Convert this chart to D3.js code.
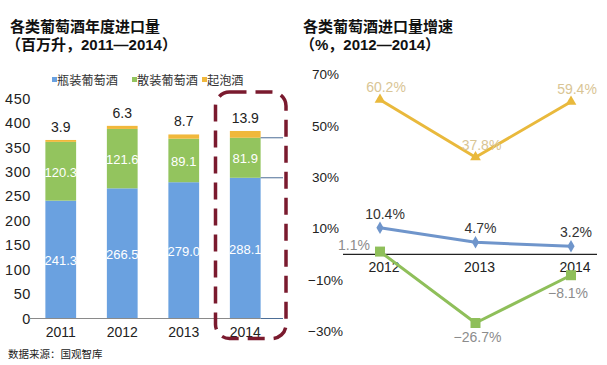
<!DOCTYPE html>
<html><head><meta charset="utf-8">
<script src="https://cdn.jsdelivr.net/npm/d3@7"></script>
<style>
html,body{margin:0;padding:0;background:#fff;}
svg{display:block;font-family:"Liberation Sans","Noto Sans CJK SC",Arial,sans-serif;}
.cjk{font-family:"Noto Sans CJK SC","Liberation Sans",sans-serif;}
.ttl{font-family:"Liberation Sans","Noto Sans CJK SC",sans-serif;}
</style></head>
<body>
<script>
// ---- data ----
const years = ["2011","2012","2013","2014"];
const bottled = [241.3, 266.5, 279.0, 288.1];
const bulk = [120.3, 121.6, 89.1, 81.9];
const sparkling = [3.9, 6.3, 8.7, 13.9];
const seriesNames = ["瓶装葡萄酒","散装葡萄酒","起泡酒"];
const leftTicks = [0,50,100,150,200,250,300,350,400,450];

const growthYears = ["2012","2013","2014"];
const growthBottled = [10.4, 4.7, 3.2];
const growthBulk = [1.1, -26.7, -8.1];
const growthSparkling = [60.2, 37.8, 59.4];
const rightTicks = [70,50,30,10,-10,-30];
const rightTickLabels = ["70%","50%","30%","10%","−10%","−30%"];

const colors = {blue:"#6aa1e0", green:"#93c45e", yellow:"#f1b83b"};
const lineColors = {blue:"#6f95cb", green:"#8fbf5a", yellow:"#e9b93c"};

const W=607,H=365;
const svg=d3.select("body").append("svg").attr("width",W).attr("height",H);

// ---- titles ----
function title(x,yb,t){
  svg.append("text").attr("class","ttl").attr("font-size",15).attr("font-weight","bold").attr("fill","#111")
    .attr("x",x).attr("y",yb).text(t);
}
title(10,31.5,"各类葡萄酒年度进口量");
title(6,49.5,"（百万升，2011—2014）");
title(303,31.5,"各类葡萄酒进口量增速");
title(300,49.5,"（%，2012—2014）");

// ---- left chart ----
const x=d3.scaleBand().domain(years).range([30,276]).paddingInner(0.5).paddingOuter(0.25);
const y=d3.scaleLinear().domain([0,450]).range([318.5,98.7]);

const rows=years.map((yr,i)=>({year:yr,bottled:bottled[i],bulk:bulk[i],sparkling:sparkling[i]}));
const keys=["bottled","bulk","sparkling"];
const keyColors=[colors.blue,colors.green,colors.yellow];
const stack=d3.stack().keys(keys)(rows);

const left=svg.append("g");
// y tick labels
left.append("g").selectAll("text").data(leftTicks).join("text")
  .attr("x",31).attr("y",d=>y(d)).attr("dy","0.35em").attr("text-anchor","end")
  .attr("font-size",14.5).attr("fill","#222").attr("letter-spacing",0.6).text(d=>d);

stack.forEach((s,k)=>{
  left.append("g").selectAll("rect").data(s).join("rect")
    .attr("x",d=>x(d.data.year)).attr("width",x.bandwidth())
    .attr("y",d=>y(d[1])).attr("height",d=>y(d[0])-y(d[1]))
    .attr("fill",keyColors[k]);
});
// inside labels
[0,1].forEach(k=>{
  left.append("g").selectAll("text").data(stack[k]).join("text")
    .attr("x",d=>x(d.data.year)+x.bandwidth()/2).attr("y",d=>y((d[0]+d[1])/2)+1).attr("dy","0.35em")
    .attr("text-anchor","middle").attr("font-size",13).attr("fill","#fff")
    .text((d,i)=>(k===0?bottled[i]:bulk[i]).toFixed(1));
});
// sparkling labels above
left.append("g").selectAll("text").data(stack[2]).join("text")
  .attr("x",d=>x(d.data.year)+x.bandwidth()/2).attr("y",d=>y(d[1])-8)
  .attr("text-anchor","middle").attr("font-size",14).attr("fill","#222")
  .text((d,i)=>sparkling[i].toFixed(1));

// connector lines for 2014
const last=years.length-1;
const xr=x(years[last])+x.bandwidth();
[0,bottled[last],bottled[last]+bulk[last]].forEach(v=>{
  left.append("line").attr("x1",xr).attr("x2",283).attr("y1",y(v)).attr("y2",y(v))
    .attr("stroke","#4d6e96").attr("stroke-width",1);
});
// x axis line
left.append("line").attr("x1",29).attr("x2",xr).attr("y1",y(0)).attr("y2",y(0))
  .attr("stroke","#8a8a8a").attr("stroke-width",1);
// x labels
left.append("g").selectAll("text").data(years).join("text")
  .attr("x",d=>x(d)+x.bandwidth()/2).attr("y",337).attr("text-anchor","middle")
  .attr("font-size",14).attr("fill","#222").text(d=>d);

// legend
const legX=[52,132,202];
seriesNames.forEach((n,i)=>{
  svg.append("rect").attr("x",legX[i]).attr("y",77).attr("width",5).attr("height",5).attr("fill",keyColors[i]);
  svg.append("text").attr("class","cjk").attr("x",legX[i]+5).attr("y",84.5).attr("font-size",12.2)
    .attr("fill","#333").text(n);
});

// highlight dashed rounded rect
svg.append("rect").attr("x",215.5).attr("y",92).attr("width",70.5).attr("height",246.5)
  .attr("rx",14).attr("ry",14).attr("fill","none").attr("stroke","#7a1a2e")
  .attr("stroke-width",3.5).attr("stroke-dasharray","17 9");

// source
svg.append("text").attr("class","cjk").attr("x",8).attr("y",358).attr("font-size",10.5)
  .attr("fill","#222").text("数据来源：国观智库");

// ---- right chart ----
const xp=d3.scalePoint().domain(growthYears).range([380,571]);
const yp=d3.scaleLinear().domain([-30,70]).range([331.5,74.5]);
const right=svg.append("g");
right.append("g").selectAll("text").data(rightTicks).join("text")
  .attr("x",(d)=>d<0?308:312).attr("y",d=>yp(d)).attr("dy","0.35em")
  .attr("font-size",13.5).attr("fill","#222").text((d,i)=>rightTickLabels[i]);
right.append("line").attr("x1",343).attr("x2",597).attr("y1",yp(0)).attr("y2",yp(0))
  .attr("stroke","#222").attr("stroke-width",1.2);
right.append("g").selectAll("text").data(growthYears).join("text")
  .attr("x",d=>xp(d)+4).attr("y",yp(0)+17.5).attr("text-anchor","middle")
  .attr("font-size",14).attr("fill","#222").text(d=>d);

const line=d3.line().x((d,i)=>xp(growthYears[i])).y(d=>yp(d));
function series(vals,col,shape,size){
  right.append("path").datum(vals).attr("d",line).attr("fill","none")
    .attr("stroke",col).attr("stroke-width",3).attr("stroke-linejoin","round");
  right.append("g").selectAll("path").data(vals).join("path")
    .attr("transform",(d,i)=>`translate(${xp(growthYears[i])},${yp(d)})`)
    .attr("d",d3.symbol().type(shape).size(size)).attr("fill",col);
}
series(growthBulk,lineColors.green,d3.symbolSquare,100);
series(growthBottled,lineColors.blue,d3.symbolDiamond,45);
series(growthSparkling,lineColors.yellow,d3.symbolTriangle,50);

// labels
right.append("g").selectAll("text").data(growthBottled).join("text")
  .attr("x",(d,i)=>xp(growthYears[i])+5).attr("y",d=>yp(d)-9).attr("text-anchor","middle")
  .attr("font-size",14).attr("fill","#333").text(d=>d.toFixed(1)+"%");
right.append("g").selectAll("text").data(growthSparkling).join("text")
  .attr("x",(d,i)=>xp(growthYears[i])+6).attr("y",d=>yp(d)-7.5).attr("text-anchor","middle")
  .attr("font-size",14).attr("fill","#d9c594").text(d=>d.toFixed(1)+"%");
const bulkOff=[[-10,-2,"end"],[2,19,"middle"],[-3,23,"middle"]];
right.append("g").selectAll("text").data(growthBulk).join("text")
  .attr("x",(d,i)=>xp(growthYears[i])+bulkOff[i][0]).attr("y",(d,i)=>yp(d)+bulkOff[i][1])
  .attr("text-anchor",(d,i)=>bulkOff[i][2])
  .attr("font-size",14).attr("fill","#8c8c8c").text(d=>(d<0?"−":"")+Math.abs(d).toFixed(1)+"%");
</script>
</body></html>
